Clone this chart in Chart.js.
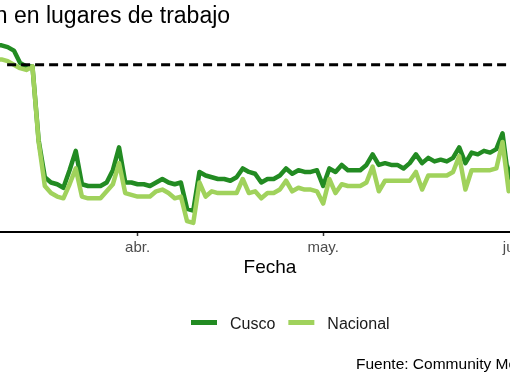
<!DOCTYPE html>
<html><head><meta charset="utf-8">
<script src="https://cdn.jsdelivr.net/npm/chart.js@4"></script>
<style>
html,body{margin:0;padding:0;overflow:hidden;background:#fff;width:510px;height:382px}
#wrap{position:absolute;left:0;top:0;width:540px;height:382px}
</style></head><body>
<div id="wrap"><canvas id="c"></canvas></div>
<script>
// Days are counted from 1 abr. 2020; first value is 9 mar.
const startDay = -23;
const cusco = [11,11,10,8,1,-1,-1,-43,-64,-67,-68,-70,-60,-49,-68,-69,-69,-69,-67,-60,-47,-67,-67,
  -68,-68,-69,-67,-65,-67,-68,-67,-82,-83,-61,-63,-64,-65,-65,-66,-64,-59,-61,-62,-67,-65,-65,-63,-59,-62,-60,-61,-61,-60,
  -69,-59,-61,-57,-60,-60,-60,-57,-51,-57,-56,-57,-57,-59,-56,-51,-56,-53,-55,-54,-55,-53,-47,-56,-50,-51,-49,-50,-48,-39,-66,
  -50];
const nacional = [3,3,2,0,-2,-3,-1,-44,-69,-73,-75,-76,-68,-59,-75,-76,-76,-76,-72,-68,-56,-73,-74,
  -75,-75,-75,-72,-71,-73,-76,-75,-89,-90,-67,-75,-72,-73,-73,-73,-73,-65,-73,-72,-76,-73,-73,-71,-66,-72,-70,-71,-71,-72,
  -79,-65,-73,-68,-69,-69,-69,-67,-58,-72,-66,-66,-66,-66,-66,-61,-71,-63,-63,-63,-63,-61,-52,-71,-60,-60,-60,-60,-59,-44,-72,
  -60];
const baselineDays = [-21.1, 66];
const baselineValues = [0, 0];
const tickDays = [0, 30, 61];
const tickLabels = ['abr.', 'may.', 'jun.'];
const seriesNames = ['Cusco', 'Nacional'];
const seriesColors = ['#228b22', '#a0d25c'];
const titleText = 'Variación en lugares de trabajo';
const xTitle = 'Fecha';
const captionText = 'Fuente: Community Mobility Reports';

const FONT = "'Liberation Sans', Arial, sans-serif";
const toPoints = (vals) => vals.map((v, i) => ({x: startDay + i, y: v}));

const PX_PER_DAY = 6.185, APR_PX = 137.6, CHART_W = 540;
const xMin = -APR_PX / PX_PER_DAY;
const xMax = (CHART_W - APR_PX) / PX_PER_DAY;
const TOP = 30, BOTTOM = 231, ZERO_PX = 64.5, PX_PER_PCT = 1.75;
const yMax = (ZERO_PX - TOP) / PX_PER_PCT;
const yMin = -(BOTTOM - ZERO_PX) / PX_PER_PCT;

const extras = {
  id: 'extras',
  afterDraw(chart) {
    const ctx = chart.ctx, ca = chart.chartArea;
    ctx.save();
    // title
    ctx.font = '23px ' + FONT;
    ctx.fillStyle = '#000';
    ctx.textBaseline = 'alphabetic';
    ctx.textAlign = 'left';
    const firstWord = titleText.split(' ')[0] + ' ';
    ctx.fillText(titleText, ca.left + 14 - ctx.measureText(firstWord).width, 23);
    // legend
    ctx.font = '16px ' + FONT;
    let x = 191;
    seriesNames.forEach((name, i) => {
      ctx.fillStyle = seriesColors[i];
      ctx.fillRect(x, 320, 26, 5);
      ctx.fillStyle = '#1a1a1a';
      ctx.fillText(name, x + 39, 329);
      x += 39 + ctx.measureText(name).width + 13;
    });
    // caption
    ctx.font = '15.5px ' + FONT;
    ctx.fillStyle = '#000';
    ctx.fillText(captionText, 356, 369);
    ctx.restore();
  }
};

new Chart(document.getElementById('c'), {
  type: 'line',
  data: {
    datasets: [
      {label: seriesNames[0], data: toPoints(cusco), borderColor: seriesColors[0], borderWidth: 4.5, pointRadius: 0, tension: 0, borderJoinStyle: 'round', order: 2},
      {label: seriesNames[1], data: toPoints(nacional), borderColor: seriesColors[1], borderWidth: 4.5, pointRadius: 0, tension: 0, borderJoinStyle: 'round', order: 1},
      {label: 'base', data: baselineDays.map((d, i) => ({x: d, y: baselineValues[i]})), borderColor: '#000', borderWidth: 3, borderDash: [9, 5], pointRadius: 0, order: 0}
    ]
  },
  options: {
    responsive: true, maintainAspectRatio: false, animation: false, devicePixelRatio: 1,
    layout: {padding: {top: TOP, left: 0, right: 0, bottom: 103.2}},
    plugins: {legend: {display: false}, tooltip: {enabled: false}, title: {display: false}},
    scales: {
      x: {
        type: 'linear', min: xMin, max: xMax,
        afterBuildTicks: (axis) => { axis.ticks = tickDays.map(v => ({value: v})); },
        border: {display: true, color: '#000', width: 2},
        grid: {display: true, drawOnChartArea: false, drawTicks: true, tickLength: 4, tickWidth: 1.5, tickColor: '#333'},
        ticks: {autoSkip: false, maxRotation: 0, padding: 3, color: '#4d4d4d', font: {family: FONT, size: 15},
          callback: (v) => { const k = tickDays.indexOf(v); return k >= 0 ? tickLabels[k] : ''; }},
        title: {display: true, text: xTitle, color: '#000', font: {family: FONT, size: 19}, padding: {top: -4, bottom: 0}}
      },
      y: {display: false, min: yMin, max: yMax}
    }
  },
  plugins: [extras]
});
</script>
</body></html>
